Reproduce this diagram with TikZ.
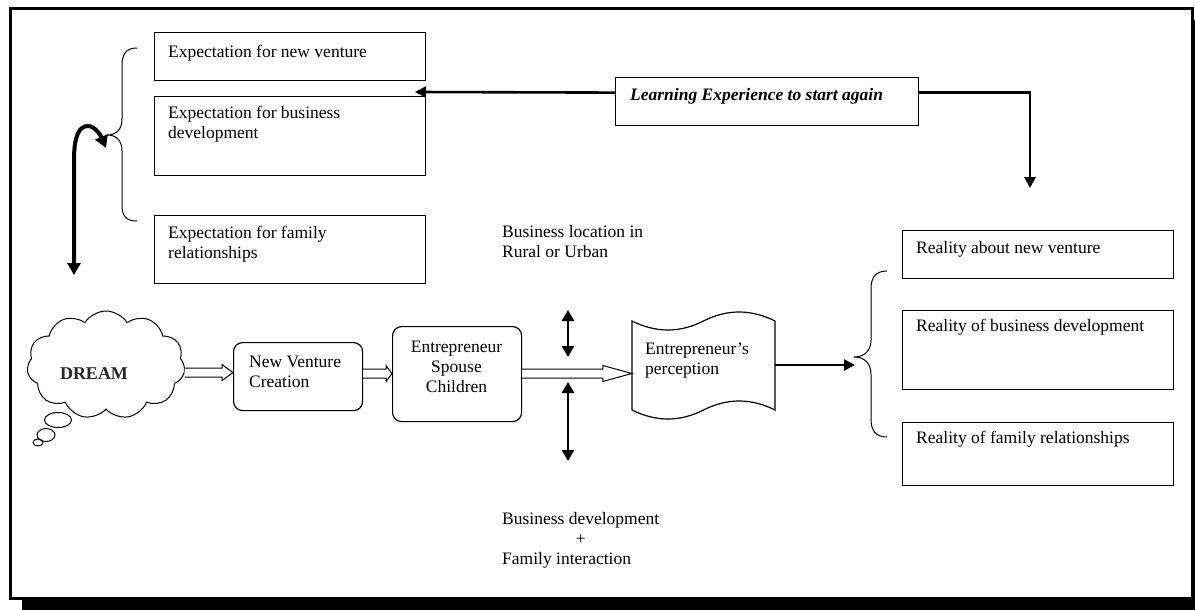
\documentclass[tikz,border=0pt]{standalone}
\usepackage{fontspec}
\setmainfont{Liberation Serif}
\usetikzlibrary{arrows.meta,shapes.symbols,calc}

% multi-line text whose baseline is the first line
\newcommand\leftlines[1]{\begin{tabular}[t]{@{}l@{}}#1\end{tabular}}
\newcommand\centerlines[1]{\begin{tabular}[t]{@{}c@{}}#1\end{tabular}}

\begin{document}
\begin{tikzpicture}[x=1pt,y=-1pt,
  every node/.style={font=\fontsize{17.5}{20}\selectfont},
  box/.style={draw, line width=1.2pt, inner sep=0pt, anchor=north west},
  rbox/.style={box, rounded corners=9pt},
  txt/.style={inner sep=0pt, anchor=base west},
  txtc/.style={inner sep=0pt, anchor=base},
  arr/.style={line width=2.6pt, -{Triangle[length=11pt,width=11pt]}},
  dblarr/.style={line width=2.6pt, {Triangle[length=11pt,width=12pt]}-{Triangle[length=11pt,width=12pt]}},
  brace/.style={line width=1pt},
  % hollow double-lined block arrow: shaft half height, head half height, head length
  hollow/.style n args={3}{line width=1pt, fill=white,
    to path={let \p1=(\tikztostart), \p2=(\tikztotarget) in
      (\x1,{\y2+#1}) -- ({\x2-#3},{\y2+#1}) -- ({\x2-#3},{\y2+#2}) -- (\x2,\y2)
      -- ({\x2-#3},{\y2-#2}) -- ({\x2-#3},{\y2-#1}) -- (\x1,{\y2-#1})}},
]
\useasboundingbox (0,0) rectangle (1195,610);

% page frame with its shadow
\fill[black] (22,20) rectangle (1200,615);
\draw[line width=3pt, fill=white] (10,8.5) rectangle (1192,598.5);

% expectations
\node[box, minimum width=271, minimum height=48] (exp1) at (154,32) {};
\node[box, minimum width=271, minimum height=79] (exp2) at (154,96) {};
\node[box, minimum width=271, minimum height=68] (exp3) at (154,215) {};
\node[txt] (exp1t) at (168,58) {Expectation for new venture};
\node[txt] (exp2t) at (168,118) {\leftlines{Expectation for business\\development}};
\node[txt] (exp3t) at (168,238.5) {\leftlines{Expectation for family\\relationships}};
\draw[brace] (137,48) .. controls (126,48) and (122,54) .. (122,66) -- (122,119)
  .. controls (122,130) and (116,135) .. (107,135)
  .. controls (116,135) and (122,140) .. (122,151) -- (122,205)
  .. controls (122,216) and (126,221) .. (137,221);

% realities
\node[box, minimum width=271, minimum height=48] (real1) at (902,230) {};
\node[box, minimum width=271, minimum height=79] (real2) at (902,310) {};
\node[box, minimum width=271, minimum height=63] (real3) at (902,422) {};
\node[txt] (real1t) at (916,253.5) {Reality about new venture};
\node[txt] (real2t) at (916,331.5) {Reality of business development};
\node[txt] (real3t) at (916,443.5) {Reality of family relationships};
\draw[brace] (887,271) .. controls (876,271) and (871,277) .. (871,289) -- (871,340)
  .. controls (871,351) and (864,357) .. (854,357)
  .. controls (864,357) and (871,363) .. (871,374) -- (871,419)
  .. controls (871,431) and (876,437) .. (887,437);

% learning loop
\node[box, minimum width=303, minimum height=48] (learn) at (615,77) {};
\node[txt, font=\fontsize{17.5}{20}\selectfont\bfseries\itshape] (learnt) at (630,100)
  {Learning Experience to start again};
\coordinate (backtip) at (415,92);
\coordinate (downtip) at (1030,188);
\draw[arr] ($(learn.west)+(0,-9)$) -- (backtip);
\draw[arr] ($(learn.east)+(0,-9)$) -| (downtip);

% dream
\node[cloud, draw, line width=1pt, cloud puffs=11, cloud puff arc=115, aspect=1.45,
  minimum width=158, minimum height=108, inner sep=0pt] (dream) at (106,365) {};
\node[txtc, font=\fontsize{18}{20}\selectfont\bfseries, text=black!85] (dreamt) at (94,379) {DREAM};
\draw[line width=1pt] (58,420) ellipse [x radius=13.5, y radius=7.5];
\draw[line width=1pt] (46,435) ellipse [x radius=9, y radius=6.5];
\draw[line width=1pt] (38,442.5) ellipse [x radius=5, y radius=3.5];

% link between expectations and dream
\coordinate (dreamend) at (74,275);
\coordinate (braceend) at (106,148);
\draw[line width=4pt, {Triangle[length=12pt,width=13pt]}-{Triangle[length=12pt,width=13pt]}]
  (dreamend) -- (74,160) .. controls (74,134) and (80,126) .. (88,126)
  .. controls (95,126) and (101,136) .. (braceend);

% process chain
\node[rbox, minimum width=129, minimum height=68] (nvc) at (233,342) {};
\node[txt] (nvct) at (249,367) {\leftlines{New Venture\\Creation}};
\node[rbox, minimum width=129, minimum height=95] (esc) at (392,326) {};
\node[txtc] (esct) at (456.5,352) {\centerlines{Entrepreneur\\Spouse\\Children}};

\node[minimum width=143, minimum height=90, inner sep=0pt] (perc) at (703.5,365) {};
\draw[line width=1.2pt, fill=white] (632,321) .. controls (656,333) and (680,333) .. (703.5,321)
  .. controls (727,309) and (751,309) .. (775,321) -- (775,410)
  .. controls (751,398) and (727,398) .. (703.5,410)
  .. controls (680,422) and (656,422) .. (632,410) -- cycle;
\node[txt] (perct) at (645,354) {\leftlines{Entrepreneur’s\\perception}};

\draw[hollow={4.5pt}{8pt}{11pt}] (dream.east) to ($(nvc.west)+(0,-4)$);
\draw[hollow={4.5pt}{8pt}{6pt}] (nvc.east) to ($(esc.west)+(0,-0.5)$);
\draw[hollow={4.5pt}{8pt}{29pt}] (esc.east) to ($(perc.west)+(0,8.5)$);

\coordinate (realtip) at (855,365);
\draw[arr] (perc.east) -- (realtip);

% surroundings of the family business
\node[txt] (loct) at (502,237) {\leftlines{Business location in\\Rural or Urban}};
\coordinate (up1) at (568,310);
\coordinate (up2) at (568,357);
\coordinate (dn1) at (568,382);
\coordinate (dn2) at (568,461);
\draw[dblarr] (up1) -- (up2);
\draw[dblarr] (dn1) -- (dn2);
\node[txt] (devt) at (502,524) {\leftlines{Business development\\\multicolumn{1}{@{}c@{}}{+}\\Family interaction}};
\end{tikzpicture}
\end{document}
